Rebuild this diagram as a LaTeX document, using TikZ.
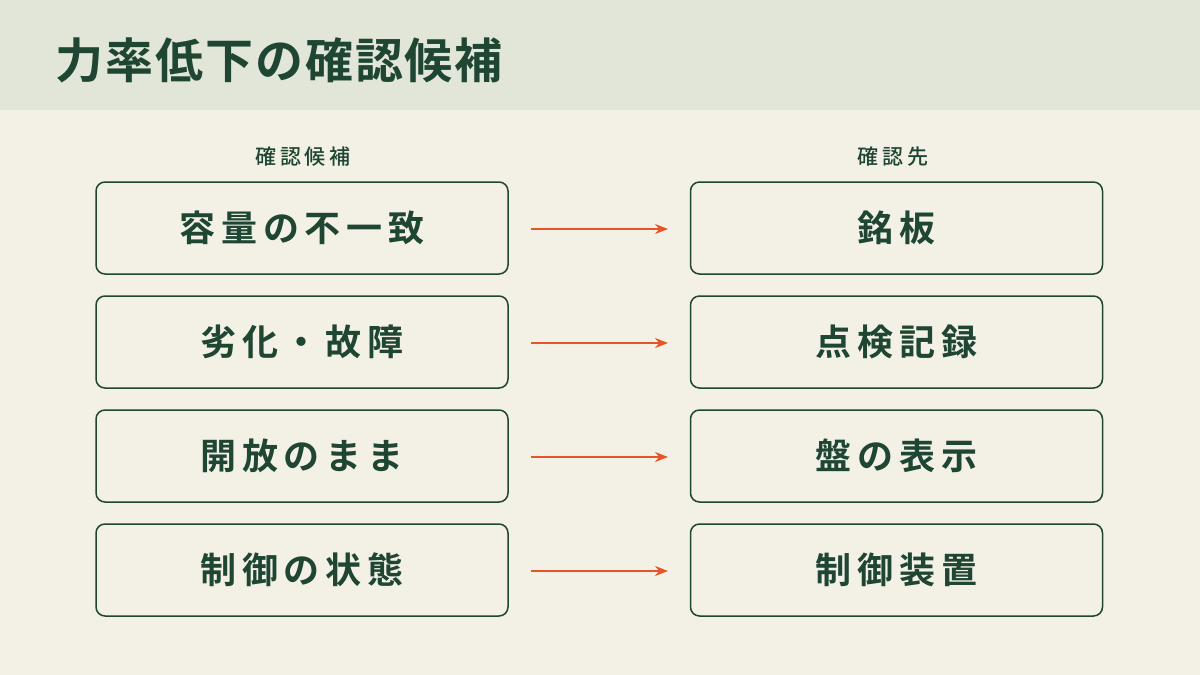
\documentclass[tikz,border=0pt]{standalone}
\usepackage{fontspec}
\setmainfont{Noto Sans CJK JP}[BoldFont={Noto Sans CJK JP Bold}]
\newfontfamily\jpb{Noto Sans CJK JP Bold}[LetterSpace=16]
\newfontfamily\jpt{Noto Sans CJK JP Bold}[LetterSpace=4]
\newfontfamily\jpm{Noto Sans CJK JP Medium}[LetterSpace=18]
\usetikzlibrary{arrows.meta}
\definecolor{bg}{HTML}{F3F1E6}
\definecolor{band}{HTML}{E2E6D8}
\definecolor{dg}{HTML}{1F4533}
\definecolor{org}{HTML}{E8542A}
\begin{document}
\begin{tikzpicture}[x=1pt,y=-1pt,
 box/.style={draw=dg,line width=1.5pt,rounded corners=9pt,minimum width=412pt,minimum height=92pt,text=dg,font=\jpb\fontsize{36}{42}\selectfont,inner sep=0pt},
 lab/.style={text=dg,font=\jpm\fontsize{21}{24}\selectfont},
 arr/.style={draw=org,line width=1.5pt,-{Stealth[length=13pt,width=10pt]}}]
\fill[bg] (0,0) rectangle (1200,675);
\fill[band] (0,0) rectangle (1200,110);
\useasboundingbox (0,0) rectangle (1200,675);
\node[anchor=west,text=dg,font=\jpt\fontsize{48}{54}\selectfont] (title) at (52,60) {力率低下の確認候補};
\node[lab] (h1) at (303,157) {確認候補};
\node[lab] (h2) at (893,157) {確認先};
\foreach \i/\a/\b in {0/容量の不一致/銘板,1/劣化・故障/点検記録,2/開放のまま/盤の表示,3/制御の状態/制御装置}{
 \node[box] (l\i) at (302,{228+114*\i}) {\a};
 \node[box] (r\i) at (896.5,{228+114*\i}) {\b};
 \coordinate (s\i) at (531,{229+114*\i});
 \coordinate (e\i) at (668,{229+114*\i});
 \draw[arr] (s\i) -- (e\i);
}
\end{tikzpicture}
\end{document}
